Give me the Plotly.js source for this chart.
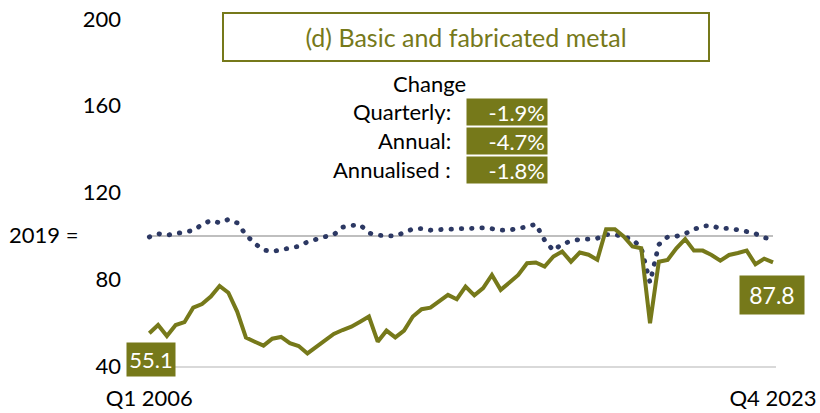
<!DOCTYPE html>
<html>
<head>
<meta charset="utf-8">
<script src="https://cdn.plot.ly/plotly-3.0.1.min.js"></script>
<style>
html,body{margin:0;padding:0;background:#fff;}
#chart{width:820px;height:413px;}
.scatterlayer .trace:first-child .js-line{stroke-linecap:round !important;}
</style>
</head>
<body>
<div id="chart"></div>
<script>
// ---- data ----
const xTickLabels = ["Q1 2006", "Q4 2023"];
const sectorIndex = [55.1,58.9,53.8,58.9,60.2,66.9,68.6,72.0,76.9,73.8,65.1,53.1,51.2,49.4,52.6,53.4,50.5,49.2,45.8,48.9,52.0,54.8,56.6,58.1,60.4,62.8,51.2,56.3,53.2,56.3,62.8,66.2,66.9,69.7,72.8,70.8,76.6,72.6,75.9,82.0,75.1,78.5,82.0,87.4,87.7,85.8,90.5,92.8,88.1,92.3,91.3,89.0,103.1,103.1,99.7,95.1,94.3,59.7,88.1,88.9,94.3,98.5,93.2,93.2,91.2,88.6,91.2,92.1,93.2,86.9,89.5,87.8];
const comparisonIndex = [99.5,101.0,100.3,101.0,101.5,102.5,105.2,107.1,106.0,107.6,106.0,100.5,96.5,93.5,92.8,93.6,94.2,95.2,97.2,98.6,99.6,100.5,104.0,104.8,105.1,101.3,100.3,100.0,100.0,101.5,103.2,103.4,102.6,102.9,103.1,103.2,103.5,103.8,103.7,103.3,102.6,102.7,103.3,104.2,105.4,98.0,93.2,96.3,97.5,98.4,98.5,98.9,100.6,100.6,99.6,98.4,94.5,78.5,96.0,99.5,99.8,101.0,103.0,104.5,104.8,103.3,103.5,103.0,102.0,101.0,99.2,98.4];
const yTicks = [40, 80, 120, 160, 200];
const baseYear = 100;
const titleText = "(d) Basic and fabricated metal";
const changeHeader = "Change";
const changeLabels = ["Quarterly:", "Annual:", "Annualised :"];
const changeValues = ["-1.9%", "-4.7%", "-1.8%"];

// ---- styling ----
const OLIVE = "#76791a";
const NAVY = "#2c3863";
const FONT = "Lato, 'Open Sans', sans-serif";
const W = 820, H = 413, L = 140, R = 44, T = 19.3, B = 47;
const plotW = W - L - R, plotH = H - T - B;
const px = v => (v - L) / plotW;
const py = v => (H - B - v) / plotH;

const n = sectorIndex.length;
const xs = sectorIndex.map((_, i) => i);

const traces = [
  {x: xs, y: comparisonIndex, type: "scatter", mode: "lines",
   line: {color: NAVY, width: 4.8, dash: "0.5px,9.8px"}, hoverinfo: "skip"},
  {x: xs, y: sectorIndex, type: "scatter", mode: "lines",
   line: {color: OLIVE, width: 4}, hoverinfo: "skip"}
];

const ann = [];
ann.push({xref: "paper", yref: "paper", x: px(466), y: py(37), text: titleText,
  showarrow: false, font: {family: FONT, size: 25, color: OLIVE},
  width: 484, height: 46, borderpad: 0, bordercolor: OLIVE, borderwidth: 2,
  xanchor: "center", yanchor: "middle"});
ann.push({xref: "paper", yref: "paper", x: px(429), y: py(84), text: changeHeader,
  showarrow: false, font: {family: FONT, size: 22, color: "#000"}, xanchor: "center", yanchor: "middle"});
const rowY = [112, 141, 170];
changeLabels.forEach((lab, k) => {
  ann.push({xref: "paper", yref: "paper", x: px(453), y: py(rowY[k]), text: lab,
    showarrow: false, font: {family: FONT, size: 22, color: "#000"}, xanchor: "right", yanchor: "middle"});
  ann.push({xref: "paper", yref: "paper", x: px(506.5), y: py(rowY[k]), text: changeValues[k],
    showarrow: false, font: {family: FONT, size: 22, color: "#fff"}, bgcolor: OLIVE,
    width: 76, height: 22, borderpad: 2, align: "right", xanchor: "center", yanchor: "middle"});
});
ann.push({xref: "paper", yref: "paper", x: px(80), y: py(235), text: "2019 =",
  showarrow: false, font: {family: FONT, size: 22, color: "#000"}, xanchor: "right", yanchor: "middle"});
ann.push({xref: "paper", yref: "paper", x: px(151), y: py(359.5), text: sectorIndex[0].toFixed(1),
  showarrow: false, font: {family: FONT, size: 22, color: "#fff"}, bgcolor: OLIVE,
  width: 44, height: 29, borderpad: 2, xanchor: "center", yanchor: "middle"});
ann.push({xref: "paper", yref: "paper", x: px(772), y: py(295), text: sectorIndex[n - 1].toFixed(1),
  showarrow: false, font: {family: FONT, size: 23, color: "#fff"}, bgcolor: OLIVE,
  width: 60, height: 34, borderpad: 2, xanchor: "center", yanchor: "middle"});

const layout = {
  width: W, height: H,
  margin: {l: L, r: R, t: T, b: B, pad: 0},
  paper_bgcolor: "#fff", plot_bgcolor: "#fff",
  showlegend: false,
  font: {family: FONT, size: 22, color: "#000"},
  xaxis: {range: [-1.06, n - 1 + 0.34], tickvals: [0, n - 1], ticktext: xTickLabels,
    showgrid: false, zeroline: false, showline: true, linecolor: "#d9d9d9", linewidth: 2,
    ticks: "", ticklabelstandoff: 12, tickfont: {family: FONT, size: 22, color: "#000"}},
  yaxis: {range: [40, 200], tickvals: yTicks, showgrid: false, zeroline: false,
    showline: false, ticks: "", ticklabelstandoff: 18, tickfont: {family: FONT, size: 22, color: "#000"}},
  shapes: [{type: "line", xref: "x", yref: "y", x0: 0, x1: n - 1, y0: baseYear, y1: baseYear,
    line: {color: "#bfbfbf", width: 2}, layer: "below"}],
  annotations: ann
};

Plotly.newPlot("chart", traces, layout, {staticPlot: true, displayModeBar: false});
</script>
</body>
</html>
